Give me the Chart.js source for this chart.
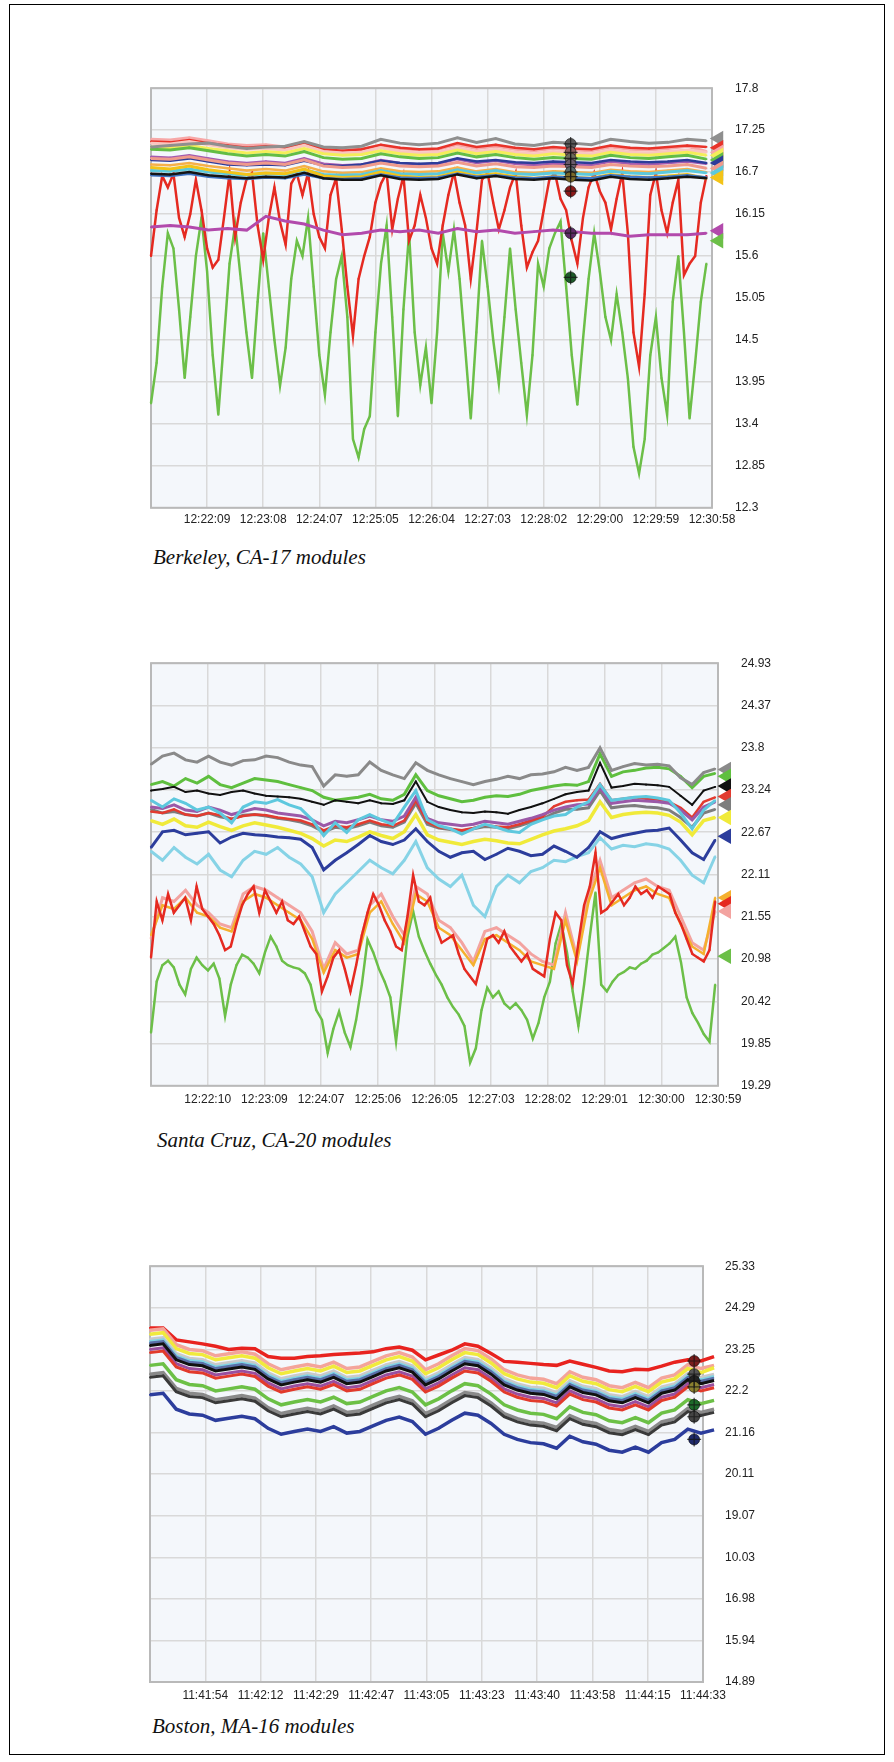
<!DOCTYPE html>
<html>
<head>
<meta charset="utf-8">
<script src="https://cdn.jsdelivr.net/npm/chart.js@4.4.1/dist/chart.umd.min.js"></script>
<style>
  body { margin: 0; background: #fff; width: 894px; height: 1762px; position: relative; overflow: hidden; }
  #border { position: absolute; left: 9px; top: 4px; width: 876px; height: 1751px; border: 1.5px solid #000; box-sizing: border-box; }
  .box { position: absolute; }
  .cap { position: absolute; font: italic 21px 'Liberation Serif', 'Times New Roman', serif; color: #111; white-space: nowrap; }
</style>
</head>
<body>
<div id="border"></div>
<div class="box" style="left:141px;top:58px;width:650px;height:480px"><canvas id="c1"></canvas></div>
<div class="cap" style="left:153px;top:545px">Berkeley, CA-17 modules</div>
<div class="box" style="left:141px;top:633px;width:657px;height:483px"><canvas id="c2"></canvas></div>
<div class="cap" style="left:157px;top:1128px">Santa Cruz, CA-20 modules</div>
<div class="box" style="left:140px;top:1237px;width:643px;height:475px"><canvas id="c3"></canvas></div>
<div class="cap" style="left:152px;top:1714px">Boston, MA-16 modules</div>
<script>
// ---------- Berkeley ----------
const bkTimes = ['12:22:09', '12:23:08', '12:24:07', '12:25:05', '12:26:04', '12:27:03', '12:28:02', '12:29:00', '12:29:59', '12:30:58'];
const bkTicks = ['12.3', '12.85', '13.4', '13.95', '14.5', '15.05', '15.6', '16.15', '16.7', '17.25', '17.8'];

const bkGray = [17.03, 17.05, 17.07, 17.08, 17.04, 17.01, 17.03, 17.04, 17.1, 17.03, 17.02, 17.04, 17.13, 17.08, 17.06, 17.08, 17.15, 17.09, 17.14, 17.07, 17.05, 17.09, 17.08, 17.06, 17.13, 17.1, 17.08, 17.09, 17.13, 17.11];
const bkPink = [17.13, 17.12, 17.15, 17.11, 17.07, 17.05, 17.06, 17.03, 17.09, 17.01, 16.99, 17.0, 17.05, 17.01, 16.99, 17.0, 17.06, 17.01, 17.04, 17.0, 16.98, 17.01, 16.99, 16.98, 17.03, 17.0, 16.99, 17.01, 17.04, 16.97];
const bkRedTop = [17.1, 17.09, 17.12, 17.08, 17.05, 17.02, 17.04, 17.02, 17.08, 17.0, 16.98, 17.0, 17.06, 17.02, 17.0, 17.01, 17.08, 17.03, 17.06, 17.02, 17.0, 17.03, 17.01, 17.0, 17.05, 17.02, 17.01, 17.03, 17.05, 17.03];
const bkLightPink = [17.08, 17.07, 17.1, 17.06, 17.02, 17.0, 17.01, 16.99, 17.05, 16.97, 16.95, 16.96, 17.02, 16.97, 16.95, 16.96, 17.02, 16.97, 17.0, 16.96, 16.94, 16.97, 16.95, 16.94, 16.99, 16.96, 16.95, 16.97, 16.99, 16.96];
const bkYellow = [17.03, 17.02, 17.05, 17.01, 16.98, 16.95, 16.97, 16.95, 17.01, 16.94, 16.92, 16.93, 16.98, 16.94, 16.92, 16.93, 16.99, 16.94, 16.97, 16.93, 16.91, 16.94, 16.92, 16.91, 16.96, 16.93, 16.92, 16.94, 16.96, 16.92];
const bkGreenTop = [17.0, 16.99, 17.02, 16.98, 16.94, 16.91, 16.93, 16.91, 16.97, 16.89, 16.87, 16.88, 16.94, 16.9, 16.88, 16.89, 16.95, 16.9, 16.93, 16.89, 16.87, 16.89, 16.88, 16.87, 16.92, 16.89, 16.88, 16.9, 16.92, 16.87];
const bkPurple = [16.9, 16.89, 16.92, 16.88, 16.84, 16.82, 16.84, 16.82, 16.88, 16.81, 16.79, 16.8, 16.86, 16.82, 16.8, 16.81, 16.87, 16.82, 16.85, 16.81, 16.79, 16.81, 16.8, 16.79, 16.84, 16.81, 16.8, 16.82, 16.84, 16.81];
const bkNavy = [16.86, 16.85, 16.88, 16.84, 16.8, 16.79, 16.8, 16.79, 16.85, 16.79, 16.78, 16.8, 16.85, 16.82, 16.81, 16.82, 16.88, 16.84, 16.86, 16.83, 16.82, 16.84, 16.83, 16.82, 16.86, 16.84, 16.83, 16.84, 16.86, 16.82];
const bkSalmon = [16.88, 16.87, 16.9, 16.86, 16.82, 16.8, 16.82, 16.8, 16.86, 16.78, 16.76, 16.77, 16.82, 16.78, 16.77, 16.78, 16.83, 16.78, 16.81, 16.77, 16.76, 16.78, 16.77, 16.76, 16.8, 16.78, 16.77, 16.78, 16.8, 16.75];
const bkOrange = [16.8, 16.79, 16.82, 16.78, 16.75, 16.72, 16.74, 16.72, 16.78, 16.71, 16.69, 16.7, 16.75, 16.71, 16.7, 16.71, 16.76, 16.71, 16.74, 16.7, 16.69, 16.71, 16.7, 16.69, 16.73, 16.71, 16.7, 16.72, 16.74, 16.7];
const bkCyan = [16.72, 16.71, 16.74, 16.7, 16.68, 16.66, 16.68, 16.67, 16.73, 16.67, 16.66, 16.67, 16.72, 16.68, 16.67, 16.68, 16.73, 16.69, 16.72, 16.68, 16.67, 16.69, 16.68, 16.67, 16.71, 16.69, 16.68, 16.7, 16.72, 16.69];
const bkGold = [16.76, 16.74, 16.78, 16.73, 16.7, 16.67, 16.69, 16.68, 16.74, 16.65, 16.63, 16.64, 16.7, 16.65, 16.63, 16.64, 16.7, 16.65, 16.68, 16.64, 16.62, 16.64, 16.63, 16.62, 16.67, 16.64, 16.63, 16.65, 16.67, 16.62];
const bkSteel = [16.66, 16.65, 16.68, 16.64, 16.62, 16.61, 16.63, 16.62, 16.67, 16.62, 16.61, 16.62, 16.67, 16.63, 16.62, 16.63, 16.68, 16.64, 16.66, 16.63, 16.62, 16.64, 16.63, 16.62, 16.66, 16.64, 16.63, 16.64, 16.66, 16.63];
const bkBlack = [16.68, 16.67, 16.7, 16.66, 16.64, 16.62, 16.64, 16.63, 16.69, 16.62, 16.6, 16.6, 16.66, 16.61, 16.6, 16.61, 16.67, 16.62, 16.65, 16.61, 16.6, 16.62, 16.6, 16.59, 16.64, 16.61, 16.6, 16.62, 16.64, 16.62];
const bkMagenta = [15.98, 16.0, 15.98, 15.94, 15.96, 15.94, 16.12, 16.06, 16.02, 15.94, 15.88, 15.9, 15.94, 15.92, 15.94, 15.9, 15.96, 15.92, 15.94, 15.9, 15.92, 15.94, 15.92, 15.9, 15.9, 15.86, 15.88, 15.88, 15.88, 15.9];
const bkRed = [15.6, 16.2, 16.65, 16.5, 16.68, 16.1, 15.85, 16.15, 16.6, 16.2,
  15.7, 15.45, 15.55, 16.1, 16.68, 15.85, 16.3, 16.6, 16.69, 16.0,
  15.55, 16.1, 16.5, 16.05, 15.75, 16.55, 16.68, 16.4, 16.69, 16.15,
  15.85, 15.7, 16.4, 16.62, 15.95, 15.2, 14.55, 15.3, 15.6, 15.85,
  16.3, 16.55, 16.69, 15.95, 16.35, 16.65, 15.8, 16.0, 16.4, 16.1,
  15.7, 15.5, 16.0, 16.4, 16.7, 16.3, 16.0, 15.3, 15.9, 16.6,
  16.69, 16.3, 15.95, 16.2, 16.5, 16.69, 16.0, 15.45, 15.65, 15.8,
  16.2, 16.6, 16.69, 16.35, 16.2, 15.8, 15.5, 16.1, 16.5, 16.69,
  16.45, 16.3, 15.95, 16.35, 16.69, 15.9, 14.6, 14.15, 15.1, 16.4,
  16.69, 16.2, 15.9, 16.3, 16.6, 15.35, 15.5, 15.6, 16.3, 16.65];
const bkGreen = [13.67, 14.2, 15.2, 15.9, 15.7, 14.9, 14.0, 14.8, 15.6, 16.1,
  15.4, 14.3, 13.52, 14.5, 15.5, 16.0, 15.3, 14.6, 14.0, 15.0,
  15.9, 15.2, 14.5, 13.9, 14.4, 15.3, 15.8, 15.6, 16.1, 15.2,
  14.3, 13.78, 14.6, 15.3, 15.6, 14.8, 13.2, 12.96, 13.33, 13.5,
  14.6, 15.5, 16.0, 14.8, 13.5, 14.9, 15.9, 14.6, 13.91, 14.4,
  13.67, 14.6, 15.9, 15.4, 15.95, 15.3, 14.4, 13.47, 14.6, 15.8,
  15.2, 14.5, 13.93, 14.8, 15.7, 14.9, 14.2, 13.52, 14.3, 15.5,
  15.2, 15.7, 15.9, 16.05, 15.2, 14.3, 13.65, 14.5, 15.3, 15.9,
  15.4, 14.8, 14.5, 15.1, 14.6, 14.0, 13.1, 12.75, 13.2, 14.3,
  14.8, 14.0, 13.52, 15.0, 15.6, 14.6, 13.47, 14.2, 15.0, 15.5];
const bkEnds = [17.14, 17.02, 16.96, 16.92, 16.86, 16.82, 16.75, 16.69, 16.63, 15.93, 15.8];
const bkEndColors = ['#8f8f8f', '#e8332a', '#f7a8a8', '#f4ee5a', '#63bd45', '#2d3c9a', '#ef9a8c', '#5cc9dc', '#f3c318', '#b24aac', '#6cbf48'];
const bkCursorAt = 7.48;
const bkCursor = [17.07, 16.96, 16.88, 16.8, 16.7, 16.64, 16.45, 15.9, 15.32];
const bkCursorColors = ['#5a5a5a', '#8a5a5a', '#6a6a5a', '#6a5a6a', '#5a6a6a', '#7a6a2a', '#8b1a1a', '#5e2a66', '#1d5a2a'];

// ---------- Santa Cruz ----------
const scTimes = ['12:22:10', '12:23:09', '12:24:07', '12:25:06', '12:26:05', '12:27:03', '12:28:02', '12:29:01', '12:30:00', '12:30:59'];
const scTicks = ['19.29', '19.85', '20.42', '20.98', '21.55', '22.11', '22.67', '23.24', '23.8', '24.37', '24.93'];

const scGray = [23.58, 23.69, 23.73, 23.64, 23.61, 23.69, 23.61, 23.57, 23.63, 23.64, 23.69, 23.67, 23.61, 23.57, 23.55, 23.29, 23.44, 23.42, 23.44, 23.61, 23.5, 23.44, 23.39, 23.6, 23.5, 23.44, 23.39, 23.35, 23.31, 23.35, 23.38, 23.42, 23.39, 23.44, 23.45, 23.48, 23.54, 23.5, 23.54, 23.8, 23.5, 23.55, 23.59, 23.57, 23.58, 23.56, 23.4, 23.31, 23.47, 23.52];
const scGreenTop = [23.31, 23.35, 23.29, 23.39, 23.33, 23.42, 23.31, 23.27, 23.33, 23.39, 23.37, 23.35, 23.31, 23.27, 23.23, 23.14, 23.1, 23.12, 23.14, 23.18, 23.12, 23.1, 23.18, 23.44, 23.23, 23.16, 23.12, 23.08, 23.1, 23.14, 23.16, 23.15, 23.18, 23.23, 23.26, 23.29, 23.31, 23.3, 23.35, 23.72, 23.42, 23.48, 23.5, 23.53, 23.54, 23.52, 23.42, 23.27, 23.42, 23.46];
const scBlack = [23.23, 23.25, 23.28, 23.21, 23.23, 23.19, 23.17, 23.21, 23.23, 23.19, 23.16, 23.15, 23.14, 23.12, 23.08, 23.04, 23.1, 23.08, 23.06, 23.1, 23.06, 23.05, 23.1, 23.35, 23.08, 23.01, 22.97, 22.94, 22.93, 22.95, 22.94, 22.92, 22.97, 23.01, 23.06, 23.12, 23.18, 23.21, 23.23, 23.6, 23.27, 23.29, 23.32, 23.31, 23.3, 23.28, 23.16, 23.04, 23.23, 23.28];
const scCyan = [23.1, 23.01, 23.12, 23.06, 22.97, 23.01, 22.93, 22.8, 23.01, 23.08, 23.06, 23.11, 23.04, 22.99, 22.84, 22.63, 22.8, 22.67, 22.84, 22.91, 22.84, 22.78, 23.01, 23.23, 22.84, 22.76, 22.72, 22.65, 22.72, 22.78, 22.74, 22.69, 22.67, 22.78, 22.84, 22.89, 22.91, 23.01, 23.08, 23.31, 23.1, 23.12, 23.14, 23.15, 23.13, 23.1, 22.93, 22.72, 22.97, 23.1];
const scPurple = [23.01, 22.99, 23.04, 22.97, 22.95, 23.01, 22.97, 22.91, 22.95, 22.99, 22.97, 22.93, 22.91, 22.89, 22.84, 22.76, 22.82, 22.8, 22.84, 22.89, 22.84, 22.82, 22.89, 23.14, 22.86, 22.8, 22.78, 22.76, 22.78, 22.82, 22.8, 22.78, 22.82, 22.86, 22.91, 22.97, 23.01, 23.04, 23.05, 23.27, 23.06, 23.08, 23.1, 23.09, 23.08, 23.06, 22.97, 22.84, 23.01, 23.08];
const scRedTop = [22.95, 22.93, 22.98, 22.91, 22.89, 22.93, 22.9, 22.85, 22.89, 22.91, 22.9, 22.87, 22.85, 22.83, 22.78, 22.7, 22.76, 22.74, 22.78, 22.83, 22.78, 22.76, 22.83, 23.1, 22.81, 22.74, 22.72, 22.7, 22.73, 22.77, 22.75, 22.74, 22.78, 22.83, 22.88, 23.02, 23.08, 23.1, 23.11, 23.32, 23.1, 23.12, 23.14, 23.12, 23.11, 23.08, 23.0, 22.87, 23.08, 23.14];
const scGray2 = [22.98, 22.93, 22.95, 22.91, 22.89, 22.93, 22.88, 22.85, 22.9, 22.91, 22.89, 22.86, 22.84, 22.81, 22.76, 22.68, 22.74, 22.72, 22.76, 22.81, 22.76, 22.74, 22.81, 23.06, 22.78, 22.73, 22.71, 22.69, 22.72, 22.75, 22.74, 22.72, 22.76, 22.81, 22.85, 22.93, 22.98, 22.98, 23.0, 23.23, 23.0, 23.02, 23.03, 23.01, 23.0, 22.97, 22.87, 22.74, 22.93, 22.98];
const scYellow = [22.83, 22.78, 22.85, 22.76, 22.74, 22.81, 22.75, 22.7, 22.76, 22.8, 22.77, 22.74, 22.7, 22.66, 22.59, 22.49, 22.57, 22.55, 22.61, 22.68, 22.63, 22.59, 22.68, 22.91, 22.64, 22.57, 22.54, 22.51, 22.55, 22.58, 22.56, 22.53, 22.52, 22.58, 22.64, 22.69, 22.72, 22.76, 22.83, 23.08, 22.87, 22.91, 22.93, 22.94, 22.93, 22.9, 22.81, 22.64, 22.83, 22.87];
const scNavy = [22.47, 22.68, 22.7, 22.64, 22.66, 22.68, 22.53, 22.61, 22.66, 22.64, 22.63, 22.61, 22.6, 22.58, 22.47, 22.17, 22.3, 22.4, 22.51, 22.63, 22.55, 22.51, 22.57, 22.72, 22.55, 22.42, 22.34, 22.4, 22.42, 22.31, 22.38, 22.46, 22.42, 22.36, 22.38, 22.49, 22.42, 22.34, 22.47, 22.68, 22.59, 22.63, 22.66, 22.69, 22.7, 22.73, 22.57, 22.4, 22.31, 22.57];
const scSky = [22.42, 22.3, 22.47, 22.34, 22.25, 22.38, 22.17, 22.08, 22.3, 22.42, 22.38, 22.47, 22.34, 22.25, 22.08, 21.6, 21.85, 22.0, 22.15, 22.3, 22.2, 22.12, 22.3, 22.55, 22.2, 22.05, 21.95, 22.1, 21.7, 21.55, 21.95, 22.1, 22.0, 22.15, 22.2, 22.3, 22.28, 22.35, 22.4, 22.6, 22.45, 22.5, 22.48, 22.52, 22.5, 22.45, 22.3, 22.1, 22.0, 22.35];
const scRed = [21.0, 21.75, 21.5, 21.85, 21.6, 21.7, 21.8, 21.5, 21.95, 21.65,
  21.55, 21.45, 21.3, 21.1, 21.15, 21.45, 21.7, 21.85, 21.95, 21.6,
  21.9, 21.75, 21.6, 21.75, 21.5, 21.45, 21.55, 21.35, 21.15, 21.05,
  20.55, 20.75, 21.0, 21.1, 20.85, 20.55, 20.9, 21.3, 21.6, 21.85,
  21.7, 21.5, 21.35, 21.15, 21.1, 21.55, 22.1, 21.75, 21.7, 21.8,
  21.4, 21.2, 21.25, 21.3, 21.05, 20.85, 20.75, 20.65, 20.95, 21.25,
  21.3, 21.2, 21.35, 21.15, 21.05, 20.95, 21.05, 20.85, 20.8, 20.75,
  21.25, 21.6, 21.5, 20.9, 20.65, 21.2, 21.7, 21.95, 22.4, 21.6,
  21.65, 21.75, 21.85, 21.7, 21.8, 21.95, 21.85, 21.9, 21.8, 21.95,
  21.9, 21.85, 21.6, 21.45, 21.25, 21.05, 21.0, 20.95, 21.1, 21.75];
const scPink = [21.25, 21.8, 21.75, 21.9, 21.7, 21.6, 21.45, 21.4, 21.85, 21.95, 21.9, 21.8, 21.7, 21.6, 21.35, 20.85, 21.2, 21.05, 21.1, 21.7, 21.85, 21.55, 21.3, 21.95, 21.85, 21.5, 21.4, 21.2, 20.95, 21.35, 21.4, 21.3, 21.2, 21.05, 20.95, 20.9, 21.6, 21.0, 21.85, 22.3, 21.8, 21.9, 22.0, 22.05, 21.95, 21.9, 21.55, 21.2, 21.1, 21.62];
const scOrange = [21.3, 21.7, 21.65, 21.8, 21.6, 21.55, 21.4, 21.35, 21.75, 21.85, 21.8, 21.7, 21.6, 21.5, 21.25, 20.8, 21.1, 21.0, 21.05, 21.6, 21.75, 21.45, 21.2, 21.85, 21.75, 21.4, 21.3, 21.1, 20.9, 21.25, 21.3, 21.2, 21.1, 20.95, 20.9, 20.85, 21.5, 20.95, 21.75, 22.2, 21.7, 21.8, 21.9, 21.95, 21.85, 21.8, 21.45, 21.15, 21.05, 21.8];
const scGreen = [20.0, 20.68, 20.9, 20.96, 20.87, 20.64, 20.51, 20.85, 21.0, 20.9,
  20.83, 20.92, 20.72, 20.22, 20.64, 20.9, 21.04, 21.0, 20.92, 20.79,
  21.07, 21.28, 21.15, 20.96, 20.9, 20.87, 20.85, 20.79, 20.64, 20.3,
  20.17, 19.73, 20.05, 20.28, 20.0, 19.81, 20.17, 20.64, 21.24, 21.07,
  20.85, 20.68, 20.47, 19.88, 20.56, 21.28, 21.62, 21.28, 21.09, 20.92,
  20.77, 20.64, 20.47, 20.34, 20.24, 20.09, 19.6, 19.79, 20.3, 20.6,
  20.47, 20.55, 20.39, 20.32, 20.39, 20.3, 20.17, 19.92, 20.13, 20.47,
  20.68, 21.19, 21.45, 21.07, 20.55, 20.09, 20.64, 21.28, 21.87, 20.64,
  20.55, 20.68, 20.77, 20.81, 20.87, 20.85, 20.92, 20.96, 21.04, 21.07,
  21.13, 21.19, 21.28, 20.94, 20.47, 20.26, 20.13, 19.98, 19.88, 20.64];
const scEnds = [23.51, 23.42, 23.29, 23.15, 23.04, 22.87, 22.62, 21.8, 21.72, 21.62, 21.02];
const scEndColors = ['#8a8a8a', '#5fbf3f', '#111111', '#e23b30', '#7d7d7d', '#f0ea3a', '#2c3d9c', '#f5b02e', '#e52a21', '#f3a3a0', '#6cbf48'];

// ---------- Boston ----------
const bsTimes = ['11:41:54', '11:42:12', '11:42:29', '11:42:47', '11:43:05', '11:43:23', '11:43:40', '11:43:58', '11:44:15', '11:44:33'];
const bsTicks = ['14.89', '15.94', '16.98', '10.03', '19.07', '20.11', '21.16', '22.2', '23.25', '24.29', '25.33'];

const bsRed = [23.78, 23.78, 23.48, 23.43, 23.38, 23.32, 23.24, 23.27, 23.26, 23.06, 23.02, 23.02, 23.06, 23.08, 23.11, 23.13, 23.15, 23.18, 23.26, 23.3, 23.22, 22.98, 23.1, 23.22, 23.38, 23.32, 23.14, 22.94, 22.92, 22.89, 22.86, 22.84, 22.95, 22.87, 22.79, 22.7, 22.68, 22.74, 22.73, 22.82, 22.92, 22.98, 22.95, 23.06];
const bsSalmon = [23.72, 23.76, 23.36, 23.24, 23.21, 23.08, 23.13, 23.18, 23.12, 22.88, 22.73, 22.8, 22.86, 22.8, 22.92, 22.76, 22.8, 22.94, 23.08, 23.16, 23.05, 22.73, 22.88, 23.08, 23.26, 23.21, 23.0, 22.73, 22.6, 22.52, 22.49, 22.38, 22.68, 22.54, 22.48, 22.33, 22.28, 22.41, 22.28, 22.52, 22.6, 22.86, 22.76, 22.84];
const bsYellow = [23.62, 23.66, 23.26, 23.14, 23.11, 22.98, 23.03, 23.08, 23.02, 22.78, 22.63, 22.7, 22.76, 22.7, 22.82, 22.66, 22.7, 22.84, 22.98, 23.06, 22.95, 22.63, 22.78, 22.98, 23.16, 23.11, 22.9, 22.63, 22.5, 22.42, 22.39, 22.28, 22.58, 22.44, 22.38, 22.23, 22.18, 22.31, 22.18, 22.42, 22.5, 22.76, 22.66, 22.78];
const bsLightGray = [23.5, 23.54, 23.14, 23.02, 22.99, 22.86, 22.91, 22.96, 22.9, 22.66, 22.51, 22.58, 22.64, 22.58, 22.7, 22.54, 22.58, 22.72, 22.86, 22.94, 22.83, 22.51, 22.66, 22.86, 23.04, 22.99, 22.78, 22.51, 22.38, 22.3, 22.27, 22.16, 22.46, 22.32, 22.26, 22.11, 22.06, 22.19, 22.06, 22.3, 22.38, 22.64, 22.54, 22.62];
const bsCyan = [23.44, 23.48, 23.08, 22.96, 22.93, 22.8, 22.85, 22.9, 22.84, 22.6, 22.45, 22.52, 22.58, 22.52, 22.64, 22.48, 22.52, 22.66, 22.8, 22.88, 22.77, 22.45, 22.6, 22.8, 22.98, 22.93, 22.72, 22.45, 22.32, 22.24, 22.21, 22.1, 22.4, 22.26, 22.2, 22.05, 22.0, 22.13, 22.0, 22.24, 22.32, 22.58, 22.48, 22.56];
const bsBlueGray = [23.4, 23.44, 23.04, 22.92, 22.89, 22.76, 22.81, 22.86, 22.8, 22.56, 22.41, 22.48, 22.54, 22.48, 22.6, 22.44, 22.48, 22.62, 22.76, 22.84, 22.73, 22.41, 22.56, 22.76, 22.94, 22.89, 22.68, 22.41, 22.28, 22.2, 22.17, 22.06, 22.36, 22.22, 22.16, 22.01, 21.96, 22.09, 21.96, 22.2, 22.28, 22.54, 22.44, 22.52];
const bsBlack = [23.34, 23.38, 22.98, 22.86, 22.83, 22.7, 22.75, 22.8, 22.74, 22.5, 22.35, 22.42, 22.48, 22.42, 22.54, 22.38, 22.42, 22.56, 22.7, 22.78, 22.67, 22.35, 22.5, 22.7, 22.88, 22.83, 22.62, 22.35, 22.22, 22.14, 22.11, 22.0, 22.3, 22.16, 22.1, 21.95, 21.9, 22.03, 21.9, 22.14, 22.22, 22.48, 22.38, 22.46];
const bsPurple = [23.24, 23.28, 22.88, 22.76, 22.73, 22.6, 22.65, 22.7, 22.64, 22.4, 22.25, 22.32, 22.38, 22.32, 22.44, 22.28, 22.32, 22.46, 22.6, 22.68, 22.57, 22.25, 22.4, 22.6, 22.78, 22.73, 22.52, 22.25, 22.12, 22.04, 22.01, 21.9, 22.2, 22.06, 22.0, 21.85, 21.8, 21.93, 21.8, 22.04, 22.12, 22.38, 22.28, 22.36];
const bsRed2 = [23.16, 23.2, 22.8, 22.68, 22.65, 22.52, 22.57, 22.62, 22.56, 22.32, 22.17, 22.24, 22.3, 22.24, 22.36, 22.2, 22.24, 22.38, 22.52, 22.6, 22.49, 22.17, 22.32, 22.52, 22.7, 22.65, 22.44, 22.17, 22.04, 21.96, 21.93, 21.82, 22.12, 21.98, 21.92, 21.77, 21.72, 21.85, 21.72, 21.96, 22.04, 22.3, 22.2, 22.28];
const bsGreen = [22.84, 22.88, 22.48, 22.36, 22.33, 22.2, 22.25, 22.3, 22.24, 22.0, 21.85, 21.92, 21.98, 21.92, 22.04, 21.88, 21.92, 22.06, 22.2, 22.28, 22.17, 21.85, 22.0, 22.2, 22.38, 22.33, 22.12, 21.85, 21.72, 21.64, 21.61, 21.5, 21.8, 21.66, 21.6, 21.45, 21.4, 21.53, 21.4, 21.64, 21.72, 21.98, 21.88, 21.96];
const bsGray = [22.62, 22.66, 22.26, 22.14, 22.11, 21.98, 22.03, 22.08, 22.02, 21.78, 21.63, 21.7, 21.76, 21.7, 21.82, 21.66, 21.7, 21.84, 21.98, 22.06, 21.95, 21.63, 21.78, 21.98, 22.16, 22.11, 21.9, 21.63, 21.5, 21.42, 21.39, 21.28, 21.58, 21.44, 21.38, 21.23, 21.18, 21.31, 21.18, 21.42, 21.5, 21.76, 21.66, 21.74];
const bsDarkGray = [22.54, 22.58, 22.18, 22.06, 22.03, 21.9, 21.95, 22.0, 21.94, 21.7, 21.55, 21.62, 21.68, 21.62, 21.74, 21.58, 21.62, 21.76, 21.9, 21.98, 21.87, 21.55, 21.7, 21.9, 22.08, 22.03, 21.82, 21.55, 21.42, 21.34, 21.31, 21.2, 21.5, 21.36, 21.3, 21.15, 21.1, 21.23, 21.1, 21.34, 21.42, 21.68, 21.58, 21.66];
const bsNavy = [22.1, 22.14, 21.74, 21.62, 21.59, 21.46, 21.51, 21.56, 21.5, 21.26, 21.11, 21.18, 21.24, 21.18, 21.3, 21.14, 21.18, 21.32, 21.46, 21.54, 21.43, 21.11, 21.26, 21.46, 21.64, 21.59, 21.38, 21.11, 20.98, 20.9, 20.87, 20.76, 21.06, 20.92, 20.86, 20.71, 20.66, 20.79, 20.66, 20.9, 20.98, 21.24, 21.14, 21.22];
const bsEnds = [23.06, 22.78, 22.62, 22.46, 21.98, 21.74, 21.22];
const bsEndColors = ['#e8231f', '#f1ea3c', '#9a9a9a', '#222222', '#6cc046', '#8a8a8a', '#2c3d9c'];
const bsCursorAt = 9.84;
const bsCursor = [22.95, 22.62, 22.45, 22.3, 21.85, 21.55, 20.98];
const bsCursorColors = ['#7a1d1d', '#555555', '#222222', '#8a8030', '#1e6b2a', '#444444', '#1f2a6b'];

// ---------- helpers ----------
const tickFont = { family: "'Liberation Sans Narrow', 'Liberation Sans', Arial, sans-serif", size: 12 };

function line(values, color, span, width) {
  const n = values.length;
  return {
    data: values.map((v, i) => ({ x: i * span / (n - 1), y: v })),
    borderColor: color,
    borderWidth: width || 2.5,
    pointStyle: 'rect',
    pointRadius: 1.3,
    pointBorderWidth: 0,
    pointBackgroundColor: color,
    tension: 0,
    fill: false,
    clip: span > 10 ? false : undefined
  };
}

function ends(values, colors, x) {
  return {
    data: values.map(v => ({ x: x, y: v })),
    showLine: false,
    pointStyle: 'triangle',
    pointRotation: -90,
    pointRadius: 6,
    pointBorderWidth: 3,
    pointBackgroundColor: colors,
    pointBorderColor: colors,
    clip: false
  };
}

function cursor(values, colors, x) {
  const pts = values.map(v => ({ x: x, y: v }));
  return [
    { data: pts, showLine: false, pointStyle: 'cross', pointRadius: 7, pointBorderWidth: 1.2,
      pointBorderColor: 'rgba(20,20,20,0.75)', clip: false },
    { data: pts, showLine: false, pointStyle: 'circle', pointRadius: 5.5, pointBorderWidth: 1,
      pointBackgroundColor: colors, pointBorderColor: 'rgba(0,0,0,0.55)', clip: false }
  ];
}

const framePlugin = {
  id: 'framePlugin',
  beforeDraw(chart) {
    const a = chart.chartArea, ctx = chart.ctx;
    ctx.save();
    ctx.fillStyle = '#f4f7fb';
    ctx.fillRect(a.left, a.top, a.right - a.left, a.bottom - a.top);
    ctx.restore();
  },
  beforeDatasetsDraw(chart) {
    const a = chart.chartArea, ctx = chart.ctx;
    ctx.save();
    ctx.strokeStyle = '#b9b9b9';
    ctx.lineWidth = 2;
    ctx.strokeRect(a.left, a.top, a.right - a.left, a.bottom - a.top);
    ctx.restore();
  }
};

function makeChart(id, cfg) {
  new Chart(document.getElementById(id), {
    type: 'line',
    data: { datasets: cfg.datasets },
    options: {
      responsive: true,
      maintainAspectRatio: false,
      animation: false,
      events: [],
      layout: { padding: { left: 10, top: 10, right: 0, bottom: 0 } },
      plugins: { legend: { display: false }, tooltip: { enabled: false } },
      scales: {
        x: {
          type: 'linear',
          afterDataLimits: s => { s.min = 0; s.max = 10; },
          afterFit: s => { s.height = 30; },
          grid: { color: '#d9d9d9', lineWidth: 1.5, drawTicks: false },
          border: { display: false },
          ticks: {
            stepSize: 1, autoSkip: false, maxRotation: 0, padding: cfg.xPad,
            color: '#222', font: tickFont,
            callback: v => (v >= 1 ? cfg.times[Math.round(v) - 1] : '')
          }
        },
        y: {
          position: 'right',
          min: cfg.min,
          max: cfg.max,
          afterFit: s => { s.width = cfg.yWidth; },
          grid: { color: '#d9d9d9', lineWidth: 1.5, drawTicks: false },
          border: { display: false },
          ticks: {
            count: 11, padding: cfg.yPad, color: '#222', font: tickFont,
            callback: (v, i) => cfg.ticks[i]
          }
        }
      }
    },
    plugins: [framePlugin]
  });
}

// ---------- Berkeley chart ----------
makeChart('c1', {
  times: bkTimes, ticks: bkTicks, min: 12.3, max: 17.8, yWidth: 79, xPad: 5, yPad: 23,
  datasets: [
    ...cursor(bkCursor, bkCursorColors, bkCursorAt),
    ends(bkEnds, bkEndColors, 10.12),
    line(bkMagenta, '#b24aac', 9.9, 3),
    line(bkGray, '#8f8f8f', 9.9, 3),
    line(bkBlack, '#151515', 9.9),
    line(bkSteel, '#3f74c2', 9.9),
    line(bkGold, '#f3c318', 9.9, 3),
    line(bkCyan, '#5cc9dc', 9.9, 3),
    line(bkOrange, '#f6b04a', 9.9),
    line(bkSalmon, '#ef9a8c', 9.9, 3),
    line(bkNavy, '#2d3c9a', 9.9),
    line(bkPurple, '#a45bb0', 9.9),
    line(bkGreenTop, '#63bd45', 9.9, 3),
    line(bkYellow, '#f4ee5a', 9.9, 3),
    line(bkLightPink, '#f9c6c0', 9.9, 3),
    line(bkRedTop, '#e8332a', 9.9),
    line(bkPink, '#f7a8a8', 9.9, 3),
    line(bkRed, '#e52a21', 9.9),
    line(bkGreen, '#6cbf48', 9.9)
  ]
});

// ---------- Santa Cruz chart ----------
makeChart('c2', {
  times: scTimes, ticks: scTicks, min: 19.29, max: 24.93, yWidth: 80, xPad: 7, yPad: 23,
  datasets: [
    ends(scEnds, scEndColors, 10.15),
    line(scBlack, '#111111', 9.95, 2),
    line(scGray, '#8a8a8a', 9.95, 3),
    line(scGreenTop, '#5fbf3f', 9.95, 3),
    line(scCyan, '#5ec8de', 9.95, 3),
    line(scPurple, '#9b59a8', 9.95, 3),
    line(scRedTop, '#e23b30', 9.95),
    line(scGray2, '#7d7d7d', 9.95, 3),
    line(scYellow, '#f0ea3a', 9.95, 3.5),
    line(scNavy, '#2c3d9c', 9.95, 3),
    line(scSky, '#86d3e6', 9.95, 3),
    line(scRed, '#e52a21', 9.95),
    line(scOrange, '#f5b02e', 9.95),
    line(scPink, '#f3a3a0', 9.95, 3),
    line(scGreen, '#6cbf48', 9.95)
  ]
});

// ---------- Boston chart ----------
makeChart('c3', {
  times: bsTimes, ticks: bsTicks, min: 14.89, max: 25.33, yWidth: 80, xPad: 6, yPad: 22,
  datasets: [
    ends(bsEnds, bsEndColors, 10.17),
    ...cursor(bsCursor, bsCursorColors, bsCursorAt),
    line(bsBlack, '#111111', 10.2, 3),
    line(bsNavy, '#2c3d9c', 10.2, 3.5),
    line(bsDarkGray, '#3a3a3a', 10.2, 3),
    line(bsGray, '#8a8a8a', 10.2, 3.5),
    line(bsGreen, '#6cc046', 10.2, 3.5),
    line(bsRed2, '#e23a2c', 10.2, 3),
    line(bsPurple, '#9a4f9f', 10.2, 3),
    line(bsBlueGray, '#5a6fa8', 10.2, 3),
    line(bsCyan, '#7fd3e4', 10.2, 3),
    line(bsLightGray, '#c9c9c9', 10.2, 3),
    line(bsYellow, '#f1ea3c', 10.2, 3.5),
    line(bsSalmon, '#f4a49a', 10.2, 3.5),
    line(bsRed, '#e8231f', 10.2, 3.5)
  ]
});
</script>
</body>
</html>
